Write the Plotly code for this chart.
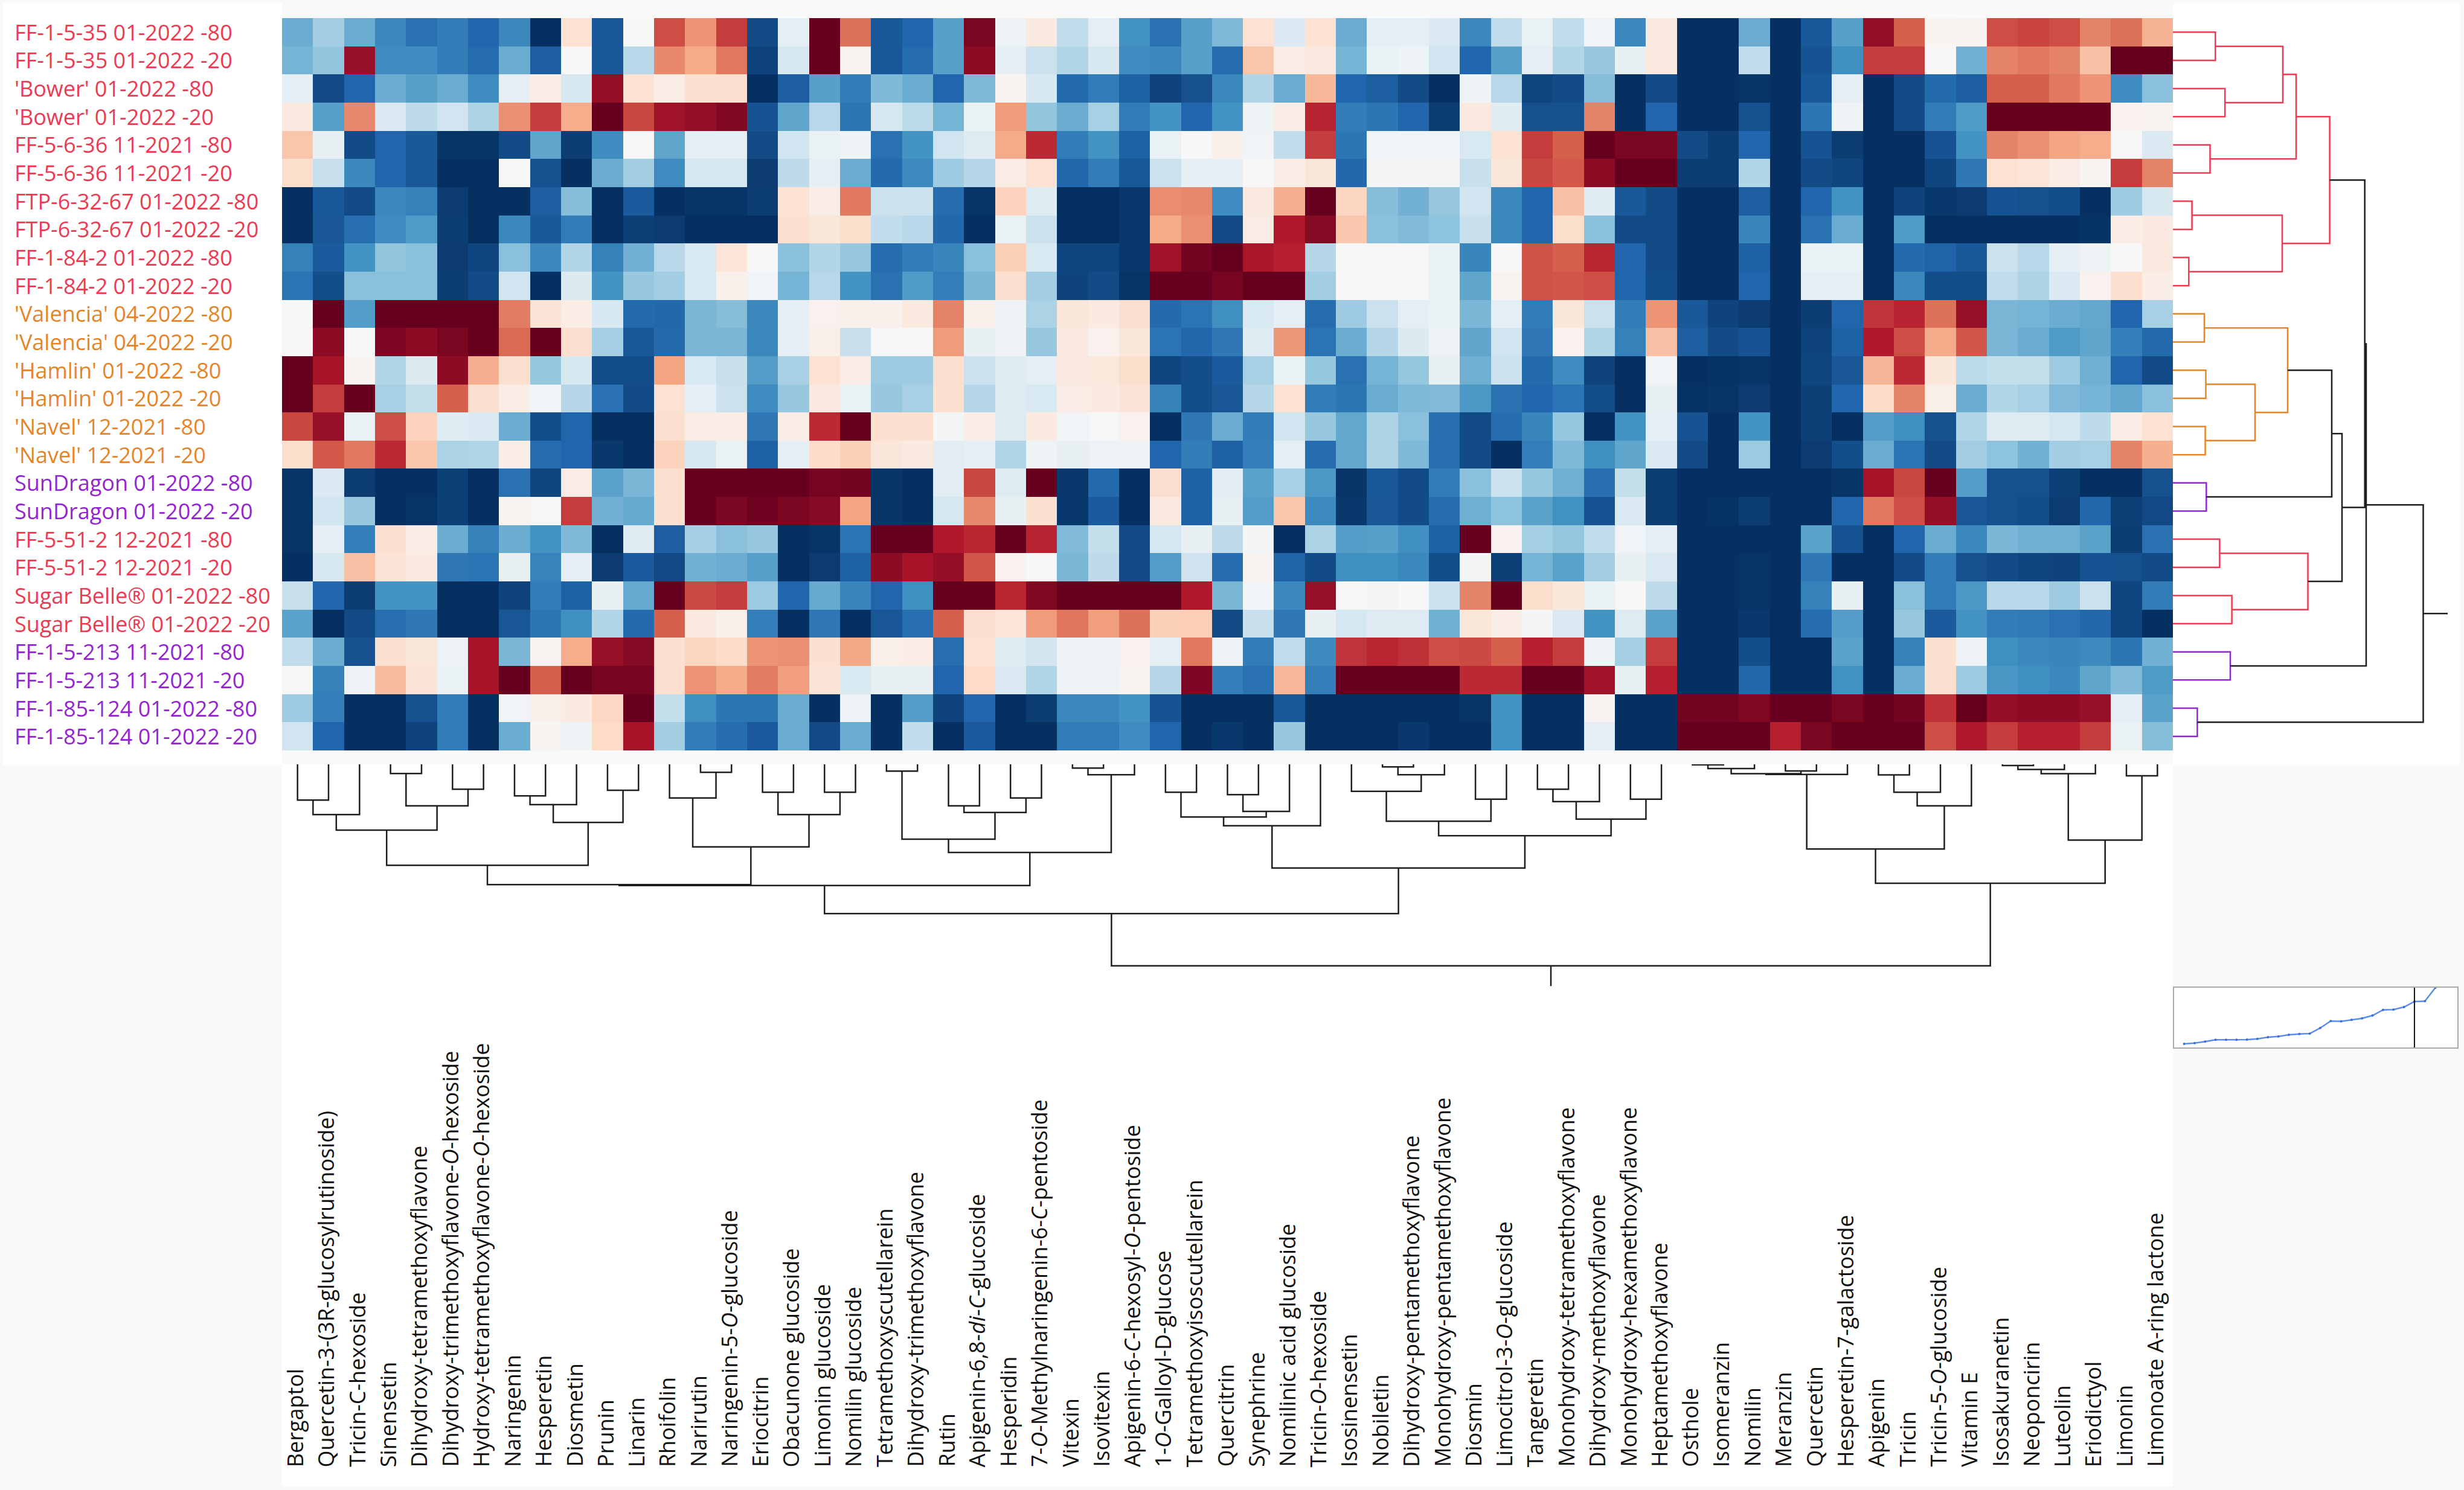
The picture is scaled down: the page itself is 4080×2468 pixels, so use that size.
import plotly.graph_objects as go

# page size in pixels, everything below is placed relative to this
W = 4080
H = 2468

row_labels = [
    "FF-1-5-35 01-2022 -80", "FF-1-5-35 01-2022 -20",
    "'Bower' 01-2022 -80", "'Bower' 01-2022 -20",
    "FF-5-6-36 11-2021 -80", "FF-5-6-36 11-2021 -20",
    "FTP-6-32-67 01-2022 -80", "FTP-6-32-67 01-2022 -20",
    "FF-1-84-2 01-2022 -80", "FF-1-84-2 01-2022 -20",
    "'Valencia' 04-2022 -80", "'Valencia' 04-2022 -20",
    "'Hamlin' 01-2022 -80", "'Hamlin' 01-2022 -20",
    "'Navel' 12-2021 -80", "'Navel' 12-2021 -20",
    "SunDragon 01-2022 -80", "SunDragon 01-2022 -20",
    "FF-5-51-2 12-2021 -80", "FF-5-51-2 12-2021 -20",
    "Sugar Belle® 01-2022 -80", "Sugar Belle® 01-2022 -20",
    "FF-1-5-213 11-2021 -80", "FF-1-5-213 11-2021 -20",
    "FF-1-85-124 01-2022 -80", "FF-1-85-124 01-2022 -20",
]
row_groups = ["red"] * 10 + ["orange"] * 6 + ["purple"] * 2 + ["red"] * 4 + ["purple"] * 4

col_labels = [
    "Bergaptol", "Quercetin-3-(3R-glucosylrutinoside)", "Tricin-C-hexoside", "Sinensetin",
    "Dihydroxy-tetramethoxyflavone", "Dihydroxy-trimethoxyflavone-<i>O</i>-hexoside",
    "Hydroxy-tetramethoxyflavone-<i>O</i>-hexoside", "Naringenin", "Hesperetin", "Diosmetin",
    "Prunin", "Linarin", "Rhoifolin", "Narirutin", "Naringenin-5-<i>O</i>-glucoside", "Eriocitrin",
    "Obacunone glucoside", "Limonin glucoside", "Nomilin glucoside", "Tetramethoxyscutellarein",
    "Dihydroxy-trimethoxyflavone", "Rutin", "Apigenin-6,8-<i>di</i>-<i>C</i>-glucoside", "Hesperidin",
    "7-<i>O</i>-Methylnaringenin-6-<i>C</i>-pentoside", "Vitexin", "Isovitexin",
    "Apigenin-6-<i>C</i>-hexosyl-<i>O</i>-pentoside", "1-<i>O</i>-Galloyl-D-glucose",
    "Tetramethoxyisoscutellarein", "Quercitrin", "Synephrine", "Nomilinic acid glucoside",
    "Tricin-<i>O</i>-hexoside", "Isosinensetin", "Nobiletin", "Dihydroxy-pentamethoxyflavone",
    "Monohydroxy-pentamethoxyflavone", "Diosmin", "Limocitrol-3-<i>O</i>-glucoside", "Tangeretin",
    "Monohydroxy-tetramethoxyflavone", "Dihydroxy-methoxyflavone", "Monohydroxy-hexamethoxyflavone",
    "Heptamethoxyflavone", "Osthole", "Isomeranzin", "Nomilin", "Meranzin", "Quercetin",
    "Hesperetin-7-galactoside", "Apigenin", "Tricin", "Tricin-5-<i>O</i>-glucoside", "Vitamin E",
    "Isosakuranetin", "Neoponcirin", "Luteolin", "Eriodictyol", "Limonin", "Limonoate A-ring lactone",
]

# one row per sample, one value per compound, scale runs -10 to 10
z_values = [
    [-5, -3.5, -5, -6.5, -7.5, -7, -8, -6.5, -10, 1.5, -8.5, 0, 6.5, 4.5, 7, -9, -1, 10, 5.5, -8.5,
     -8, -5.5, 9.5, -0.5, 1, -2.5, -1, -6, -7.5, -5.5, -4.5, 1.5, -1.5, 1.5, -5, -1, -1, -1.5, -6.5, -2.5,
     -0.7, -2.5, -0.3, -6.5, 1, -10, -10, -5, -10, -8.5, -5.5, 8.8, 6, 0.2, 0.3, 6.5, 6.8, 6.5, 5, 5.5, 3.5],
    [-4.7, -4, 8.7, -6.3, -6.3, -7, -7.7, -5, -8.3, 0, -8.5, -2.8, 4.8, 3.8, 5.3, -9.3, -1.8, 10, 0.2, -8.5,
     -7.7, -5.5, 9, -1, -2.2, -3, -1.7, -6.3, -6.5, -5.5, -7.7, 2.8, 0.7, 1, -4.7, -0.7, -0.5, -2, -8, -5.5,
     -1, -3, -3.8, -0.8, 1, -10, -10, -2.5, -10, -8.7, -6.2, 7, 7, 0, -4.8, 5, 5.3, 5, 3, 10, 10],
    [-1, -9, -8, -5, -5.5, -5, -6.3, -1, 0.8, -1.7, 8.8, 1.5, 0.8, 1.7, 1.7, -10, -8.3, -5.5, -7, -4.5,
     -5, -8, -4.5, 0.3, -1.7, -7.8, -7, -8.2, -9.3, -8.8, -6.5, -3, -5, 3.3, -8, -8.3, -9, -10, -0.5, -2.8,
     -9.2, -9, -4.3, -10, -9, -10, -10, -9.8, -10, -8.5, -1, -10, -9, -7.8, -8.3, 6, 6, 5.3, 4.5, -6.3, -4.2],
    [1, -5.5, 4.8, -1.5, -2.6, -2, -3.2, 4.6, 7, 3.7, 10, 6.7, 8.5, 8.8, 9.3, -8.7, -5.3, -2.8, -7.3, -1.7,
     -2.7, -4.7, -0.7, 4.3, -4, -5, -3.3, -7, -6, -8, -6, -0.5, 0.7, 7.7, -7, -7.3, -8, -9.5, 1, -1.2,
     -8.8, -8.8, 5, -10, -8, -10, -10, -8.8, -10, -7.3, -0.5, -10, -9, -7, -5.7, 10, 10, 10, 10, 0.4, 0.3],
    [2.8, -0.8, -9, -8, -8.5, -9.8, -9.8, -9, -5.3, -9.5, -6.3, 0, -5.3, -1, -1, -9, -2, -0.7, -0.5, -7.5,
     -6, -2, -1.3, 3.8, 7.5, -7, -6, -8.2, -0.7, 0, 0.5, -0.3, -2.5, 7, -7.3, -0.3, -0.3, -0.3, -1.6, 1.5,
     7, 6, 10, 9.5, 9.5, -9, -9.5, -8, -10, -8.7, -9.5, -10, -10, -8.7, -6, 5, 4.6, 4, 3.7, 0, -1.5],
    [1.8, -2.3, -6.5, -8, -8.5, -10, -10, 0, -8.8, -10, -5, -3.5, -6.3, -1.8, -1.8, -9.6, -2.6, -1, -5, -7.8,
     -6.4, -3.6, -2.9, 0.8, 1.5, -7.9, -7, -8.5, -2.2, -0.9, -0.9, 0, 0.7, 1.2, -7.9, -0.2, -0.2, -0.2, -2.3, 1.2,
     6.7, 6.2, 9, 10, 10, -9.5, -9.5, -3, -10, -9, -9.2, -10, -10, -9.2, -7.2, 1.5, 1.3, 0.8, 0.2, 7, 5],
    [-10, -8.5, -9, -6.5, -6.8, -9.6, -10, -10, -8.3, -4.3, -10, -8.4, -10, -9.8, -9.8, -9.5, 1.5, 0.7, 5.3, -2.2,
     -2.2, -7.7, -9.8, 2.3, -1.2, -10, -10, -9.7, 4.7, 4.8, -6.3, 1, 3.6, 10, 2.2, -4.3, -4.8, -3.8, -2, -6.5,
     -8, 3, -1.2, -8.5, -9, -10, -10, -8.3, -10, -8, -6, -10, -9.3, -9.7, -9.6, -8.7, -8.8, -8.9, -10, -3.6, -1.7],
    [-10, -8.6, -7.6, -6.3, -5.7, -9.5, -10, -6.5, -8.5, -7, -10, -9.4, -9.6, -10, -10, -10, 1.7, 1.2, 1.8, -2.5,
     -2.8, -7.9, -10, -0.7, -2.2, -10, -10, -9.7, 3.8, 4.6, -9, 0.8, 8, 9.2, 2.7, -4.2, -4.4, -4.1, -2.3, -6.5,
     -8, 1.8, -4.2, -9, -9, -10, -10, -6.6, -10, -7.5, -5, -10, -5.7, -10, -10, -10, -10, -10, -9.9, 0.7, 0.9],
    [-6.8, -8.4, -6, -4, -4.2, -9.6, -9.2, -4.2, -6.5, -3, -6.8, -4.8, -2.8, -1.6, 1.3, 0, -4.2, -3, -3.8, -7.7,
     -7, -6.6, -4.2, 2.4, -1.6, -9.2, -9.2, -9.7, 8.5, 9.7, 10, 8.2, 7.8, -2.9, 0, 0, 0, -0.7, -6.6, 0,
     6.4, 6, 7.6, -8, -9, -10, -10, -8.2, -10, -0.7, -0.7, -10, -7.8, -8.1, -8.5, -2.2, -2.8, -0.9, -0.5, 0, 1],
    [-7.4, -8.9, -4.2, -4.2, -4.2, -9.5, -9, -2, -10, -1.4, -6, -3.8, -3.5, -1.6, 0.5, -0.3, -4.7, -2.8, -6, -7.5,
     -5.7, -6.9, -4.6, 1.7, -3.5, -9.3, -9, -9.8, 10, 10, 9.6, 10, 10, -3.5, 0, 0, 0, -0.7, -5.3, 0.3,
     6.4, 6.3, 6.5, -8, -8.9, -10, -10, -8, -10, -1, -1, -10, -6.5, -8.9, -8.9, -2.5, -3.2, -1.5, 0.4, 1.7, 0.7],
    [0, 10, -5.6, 10, 10, 10, 10, 5.2, 1.4, 0.7, -1.7, -7.8, -7.9, -4.6, -4.3, -6.5, -1, 0.4, 0.5, 0.5,
     1, 5, 0.5, -0.5, -3.2, 1.2, 0.9, 1.7, -7.8, -7.4, -6.2, -1.6, -1, -7.7, -3.6, -2.2, -1, -0.7, -4.6, -1,
     -7, 1.2, -2.2, -7, 4.5, -8.5, -9.3, -9.6, -10, -9.5, -8, 7.2, 7.7, 5.5, 8.7, -4.6, -4.7, -5, -5.2, -8, -3.3],
    [0, 9, -0.1, 9.4, 9, 9.5, 10, 5.7, 10, 1.7, -3.4, -8.5, -7.8, -4.6, -4.6, -6.5, -1, 0.6, -2.3, 0,
     0, 4.3, -0.8, -0.4, -3.8, 0.9, 0.4, 1.2, -7.4, -7.9, -7.2, -1.2, 4.4, -7.4, -5, -2.9, -1.4, -0.6, -5.3, -2,
     -7.2, 0.4, -3, -6.8, 3, -8.3, -9, -8.7, -10, -9.3, -8.2, 8, 6.5, 3.8, 6.3, -4.6, -5, -5.7, -5.3, -6.9, -7.8],
    [10, 8.3, 0.2, -3, -1.4, 9, 3.6, 1.7, -3.9, -1.7, -8.9, -8.9, 4, -1.6, -2.3, -5.6, -3.3, 1.5, 0.8, -3.7,
     -3.6, 1.7, -2.2, -1.2, -1, 1, 1.1, 1.8, -9.2, -8.9, -8.4, -3.3, -0.7, -3.9, -7.5, -4.7, -3.9, -0.8, -4.9, -2.2,
     -7.8, -6.3, -9.3, -10, -0.3, -10, -9.9, -9.8, -10, -9.2, -8.6, 3.4, 7.5, 1.2, -2.7, -2.4, -2.4, -3.6, -4.9, -8, -9],
    [10, 7, 10, -3.3, -2.4, 6, 1.7, 0.7, -0.3, -2.9, -7.5, -9, 1.5, -1, -2.2, -6.3, -3.8, 1, -0.7, -3.8,
     -3.3, 1.6, -2.9, -1.3, -1.6, 0.8, 0.9, 1.4, -6.8, -8.9, -8.6, -2.9, 1.5, -7, -7.3, -5, -4.5, -4.4, -5.8, -7.5,
     -8, -7.4, -8.9, -10, -0.8, -9.9, -9.8, -9.6, -10, -9.4, -8, 1.9, 5, 0.6, -5, -3, -3.3, -4.4, -4.7, -5.2, -4.2],
    [6.7, 8.7, -0.7, 6.5, 2.3, -1.2, -1.5, -5, -8.9, -8, -10, -10, 1.7, 0.8, 0.7, -7.2, 0.8, 7.5, 10, 1.6,
     1.6, -0.2, 0.7, -1.3, 0.9, -0.3, -0.1, 0.4, -10, -7.2, -5, -7, -2, -3.8, -5.2, -3.2, -4.2, -7.6, -9, -7.7,
     -6.6, -3.9, -10, -6, -1, -8.7, -10, -6, -10, -9.4, -10, -5.6, -6.2, -8.8, -3, -1.3, -1.3, -1.8, -2.6, 0.8, 1.5],
    [1.8, 6.2, 5.3, 7.5, 2.8, -3.2, -3, 0.7, -7.7, -8, -9.7, -10, 2.3, -1.8, -0.7, -8.2, -1, 1.9, 2.4, 1.2,
     0.9, -1.1, -1, -3, -0.5, -0.8, -0.6, -0.4, -8, -7, -8.2, -6.9, -1, -7.7, -5.2, -3.1, -4.5, -7.6, -9, -10,
     -6.9, -4.5, -6.2, -5.3, -1.5, -9, -10, -3.7, -10, -9.6, -8.9, -5, -7.4, -9, -3.5, -4.1, -4.8, -3.5, -3.3, 5, 3.6],
    [-9.8, -1.5, -9.5, -10, -10, -9.4, -10, -7.5, -9.2, 0.8, -5.4, -4.6, 1.6, 10, 10, 10, 10, 9.6, 9.7, -9.8,
     -10, -1.1, 6.7, -1.3, 10, -9.7, -7.8, -10, 1.7, -8.2, -1.1, -5.4, -3.3, -5.8, -9.8, -8.5, -9, -7, -4.2, -2.2,
     -3.9, -4.9, -7.6, -2.4, -9.5, -10, -10, -10, -10, -10, -9.8, 8.3, 6.7, 10, -5.6, -8.8, -8.8, -9.4, -10, -10, -8.8],
    [-9.8, -2, -3.8, -10, -9.8, -9.4, -10, 0.3, -0.1, 7, -4.8, -5.1, 1.6, 10, 9.5, 9.8, 9.5, 9.2, 4, -9.8,
     -10, -1.8, 4.8, -0.8, 1.6, -9.7, -8.4, -10, 1, -8.2, -0.8, -5.6, 2.8, -6.4, -9.7, -8.6, -9, -7.7, -4.9, -4.1,
     -5.4, -6.1, -8.7, -1.5, -9.5, -10, -9.9, -9.5, -10, -10, -8, 5.3, 6.5, 8.8, -8.6, -8.8, -8.9, -9.6, -7.9, -9.4, -9.1],
    [-9.8, -1, -6.9, 1.6, 0.8, -5, -6.8, -5, -6, -4.5, -10, -1.3, -8.3, -3.4, -4.2, -3.8, -10, -9.8, -7.4, 10,
     10, 8, 7.6, 10, 7.7, -4.4, -2.4, -9, -1.8, -0.8, -2.6, -0.2, -10, -3.2, -5.6, -5.5, -6.2, -8.2, 10, 0.4,
     -3.4, -3.9, -2.5, -0.3, -1, -10, -10, -10, -10, -5.4, -8.7, -10, -8, -5, -6.5, -4.6, -4.8, -4.9, -5.4, -9.5, -7.5],
    [-10, -1.7, 3, 1.4, 0.9, -7.2, -7.4, -0.8, -6.7, -1, -9.6, -8.4, -9.1, -4.8, -5, -5.5, -10, -9.6, -8.2, 9,
     8.3, 8.8, 6.3, 0.4, 0, -4.6, -2.6, -9, -5.6, -2.1, -7.7, 0.3, -8.1, -9, -6.2, -6.2, -6.5, -8.9, -0.2, -9.4,
     -4.7, -5.4, -3.5, -0.8, -1.5, -10, -10, -9.8, -10, -7.2, -10, -10, -9, -7, -8.8, -9, -9.2, -9.3, -8.7, -8.8, -9],
    [-2.3, -8, -9.5, -6, -6, -10, -10, -9.3, -7, -8.2, -0.8, -5.1, 10, 6.6, 7, -3.7, -8, -5.1, -6.6, -8,
     -6.2, 10, 10, 7.6, 9.3, 10, 10, 10, 10, 8, -4.6, -0.3, -6.5, 8.7, 0.1, -0.2, 0, -2.2, 5, 10,
     1.8, 1.2, -0.7, 0, -2.6, -10, -10, -9.8, -10, -6.8, -0.8, -10, -4.2, -7, -5.8, -2.8, -2.8, -3.6, -2.2, -9.2, -7],
    [-5.4, -10, -9, -7.6, -7.2, -10, -10, -8.6, -7.3, -6.2, -3, -7.8, 6, 1, 0.5, -6.9, -10, -7.2, -10, -8.6,
     -7.6, 6, 1.7, 1.3, 4.3, 5.4, 4.2, 5.5, 2.4, 2.5, -9, -2.3, -7.2, -0.8, -1.8, -1.3, -1.3, -4.9, 1.2, 0.7,
     -0.2, -1.5, -6, -1.3, -5.4, -10, -10, -9.7, -10, -7.7, -5.6, -10, -3.8, -8.4, -6, -7, -7.1, -7.5, -7.9, -9.2, -10],
    [-2.5, -5, -8.8, 1.7, 1.2, -0.6, 8.3, -4.6, 0.3, 3.7, 8.7, 9.2, 1.6, 2.2, 1.9, 4.5, 4.6, 1.6, 3.9, 0.6,
     0.7, -7.6, 1.5, -1.2, -1.9, -0.4, -0.4, 0.4, -1, 5.3, -0.6, -7, -2.5, -6.4, 7.2, 7.6, 7.3, 6.5, 6.6, 6,
     7.8, 7, -0.5, -3.4, 7, -10, -10, -8.9, -10, -10, -5.4, -10, -6.8, 1.6, -0.5, -6.2, -6.5, -6.6, -6.4, -7.3, -4.8],
    [0, -6.8, -0.6, 3.2, 1.4, -0.7, 8.3, 10, 6, 10, 9.6, 9.6, 1.7, 4.5, 3.8, 5.2, 4.2, 1.4, -1.6, -0.8,
     -0.8, -8, 2, -1.5, -3, -0.5, -0.4, 0.3, -2.9, 9.4, -6.9, -7.5, 3.3, -6.9, 10, 10, 10, 10, 7.5, 7.5,
     10, 10, 8.5, -0.8, 7.8, -10, -10, -7.9, -10, -10, -6.1, -10, -5, 1.6, -3.6, -5.9, -6.2, -6.5, -5.3, -4.4, -5.7],
    [-3.6, -6.9, -10, -10, -8.8, -7, -10, -0.3, 0.5, 0.9, 2.1, 10, -2.4, -6.2, -7.3, -7.3, -5, -10, -0.6, -10,
     -5.6, -9.3, -8, -10, -9.5, -6.5, -6.5, -6, -8.7, -10, -10, -10, -8.5, -10, -10, -10, -10, -10, -9.8, -6,
     -10, -10, 0.3, -10, -10, 9.7, 9.7, 9.3, 10, 10, 9.5, 10, 9.7, 7.3, 10, 8.8, 9, 9, 8.7, -1, -5.4],
    [-2, -8, -10, -10, -9.3, -7, -10, -5, 0.2, -0.5, 2, 8.3, -3.5, -7, -7.7, -8.4, -5, -9.1, -5, -10,
     -2.5, -10, -8.4, -10, -10, -7, -7, -6.3, -8, -10, -9.7, -10, -3.8, -10, -10, -10, -9.7, -10, -10, -6,
     -10, -10, -1, -10, -10, 10, 10, 10, 7.8, 9.5, 10, 10, 10, 6.5, 8, 7, 7.8, 7.8, 7, -0.7, -4.3],
]

# dendrogram merges: (first leaf, last leaf of left cluster, last leaf of right cluster, height)
col_merges = [
    (1, 1, 2, 59.3), (1, 2, 3, 83.3), (4, 4, 5, 15.3), (6, 6, 7, 41.3), (4, 5, 7, 68.7), (1, 3, 7, 109),
    (8, 8, 9, 52.3), (8, 9, 10, 66.7), (11, 11, 12, 43), (8, 10, 12, 96.3), (1, 7, 12, 167.3),
    (14, 14, 15, 13.3), (13, 13, 15, 55.7), (16, 16, 17, 46.3), (18, 18, 19, 46.3), (16, 17, 19, 83.3),
    (13, 15, 19, 136.7), (1, 12, 19, 199.3),
    (20, 20, 21, 11.3), (22, 22, 23, 68.7), (24, 24, 25, 55.7), (22, 23, 25, 79.7), (20, 21, 25, 124),
    (26, 26, 27, 6.3), (26, 27, 28, 17.3), (20, 25, 28, 146), (1, 19, 28, 200.7),
    (29, 29, 30, 46.3), (31, 31, 32, 50.3), (31, 32, 33, 78), (29, 30, 33, 87.3), (29, 33, 34, 101.7),
    (36, 36, 37, 4.3), (36, 37, 38, 17.3), (35, 35, 38, 44.7), (39, 39, 40, 57.7), (35, 38, 40, 94.3),
    (41, 41, 42, 41.3), (41, 42, 43, 61.7), (44, 44, 45, 57.7), (41, 43, 45, 90.7), (35, 40, 45, 118.3),
    (29, 34, 45, 171.7), (1, 28, 45, 247.3),
    (46, 46, 47, 0.7), (46, 47, 48, 7), (49, 49, 50, 11), (46, 48, 50, 15.4), (46, 50, 51, 16.8),
    (52, 52, 53, 17.5), (52, 53, 54, 46.3), (52, 54, 55, 68.7), (46, 51, 55, 140.3),
    (56, 56, 57, 2), (56, 57, 58, 8.4), (56, 58, 59, 15.4), (60, 60, 61, 19), (56, 59, 61, 125.6),
    (46, 55, 61, 197), (1, 45, 61, 333.7),
]
col_root_height = 367.3

row_merges_red = [
    (1, 1, 2, 70.3), (3, 3, 4, 86.2), (1, 2, 4, 182), (5, 5, 6, 61.5), (1, 4, 6, 204),
    (7, 7, 8, 31.6), (9, 9, 10, 26.3), (7, 8, 10, 181), (1, 6, 10, 259.6),
    (19, 19, 20, 77.4), (21, 21, 22, 97.6), (19, 20, 22, 223.5),
]
row_merges_orange = [
    (11, 11, 12, 52), (13, 13, 14, 54.5), (15, 15, 16, 53.6), (13, 14, 16, 136), (11, 12, 16, 190),
]
row_merges_purple = [(17, 17, 18, 55.3), (23, 23, 24, 95), (25, 25, 26, 40.4)]
row_merges_black = [
    (11, 16, 18, 263), (11, 18, 22, 280), (1, 10, 22, 317.7), (1, 22, 24, 320), (1, 24, 26, 414.5),
]
row_root_height = 455

# small cluster-distance plot, bottom right
distance_steps = list(range(1, 26))
distance_values = [6, 7.3, 9.7, 12.7, 12.7, 12.7, 13, 14.3, 17, 18.3, 21, 22.3, 23, 32.3, 43.7, 43.3,
                   45.7, 48.3, 53, 62.3, 62.7, 67, 76, 76.7, 99]
distance_cut = 23

COLORS = {"red": "#EC3B52", "orange": "#E6842A", "purple": "#9325D2", "black": "#1E1E1E"}
FONT = "Open Sans"
ROW_FONT_SIZE = 36
COL_FONT_SIZE = 36


def px_x(x):
    return x / W


def px_y(y):
    return 1 - y / H


def merge_lines(merges, nodes):
    # position of a cluster is the middle of its two children
    a = []
    b = []
    for lo, mid, hi, h in merges:
        left = nodes.get((lo, mid), (float(lo), 0))
        right = nodes.get((mid + 1, hi), (float(hi), 0))
        a.extend([left[0], left[0], right[0], right[0], None])
        b.extend([left[1], h, h, right[1], None])
        nodes[(lo, hi)] = ((left[0] + right[0]) / 2, h)
    return a, b


fig = go.Figure()

fig.add_trace(go.Heatmap(
    z=z_values,
    x=list(range(1, 62)),
    y=list(range(1, 27)),
    colorscale="RdBu_r",
    zmin=-10, zmax=10,
    showscale=False,
    xaxis="x", yaxis="y"))

# column dendrogram
col_nodes = {}
xs, ys = merge_lines(col_merges, col_nodes)
root_x, root_h = col_nodes[(1, 61)]
xs.extend([root_x, root_x])
ys.extend([root_h, col_root_height])
fig.add_trace(go.Scatter(x=xs, y=ys, mode="lines", hoverinfo="skip",
                         line=dict(color=COLORS["black"], width=2.5),
                         xaxis="x2", yaxis="y2"))

# row dendrogram, coloured clusters first because the black merges sit on top of them
row_nodes = {}
for name, merges in [("red", row_merges_red), ("orange", row_merges_orange),
                     ("purple", row_merges_purple), ("black", row_merges_black)]:
    ys, xs = merge_lines(merges, row_nodes)
    if name == "black":
        root_y, root_h = row_nodes[(1, 26)]
        xs.extend([root_h, row_root_height])
        ys.extend([root_y, root_y])
    fig.add_trace(go.Scatter(x=xs, y=ys, mode="lines", hoverinfo="skip",
                             line=dict(color=COLORS[name], width=2.5),
                             xaxis="x3", yaxis="y3"))

fig.add_trace(go.Scatter(x=distance_steps, y=distance_values, mode="lines+markers",
                         line=dict(color="#5C8CEB", width=2.5),
                         marker=dict(color="#3F6FD8", size=4),
                         xaxis="x4", yaxis="y4"))
fig.add_trace(go.Scatter(x=[distance_cut, distance_cut], y=[0, 99], mode="lines",
                         line=dict(color="#111111", width=2),
                         xaxis="x4", yaxis="y4"))

annotations = []
for i, label in enumerate(row_labels):
    annotations.append(dict(text=label, x=px_x(22), y=i + 1, xref="paper", yref="y",
                            xanchor="left", yanchor="middle", showarrow=False,
                            font=dict(family=FONT, size=ROW_FONT_SIZE, color=COLORS[row_groups[i]])))
for i, label in enumerate(col_labels):
    annotations.append(dict(text=label, x=i + 1, y=px_y(2432), xref="x", yref="paper",
                            xanchor="center", yanchor="bottom", textangle=-90, showarrow=False,
                            xshift=-4,
                            font=dict(family=FONT, size=COL_FONT_SIZE, color="#111111")))

white = dict(type="rect", xref="paper", yref="paper", fillcolor="white", line_width=0, layer="below")
shapes = [
    dict(white, x0=px_x(5), x1=px_x(467), y0=px_y(1267), y1=px_y(5)),
    dict(white, x0=px_x(467), x1=px_x(3598), y0=px_y(2462), y1=px_y(1267)),
    dict(white, x0=px_x(3598), x1=px_x(4073), y0=px_y(1267), y1=px_y(5)),
]

no_axis = dict(showgrid=False, zeroline=False, showticklabels=False, ticks="", showline=False)

fig.update_layout(
    width=W, height=H,
    margin=dict(l=0, r=0, t=0, b=0),
    paper_bgcolor="#F9F9F9",
    plot_bgcolor="white",
    showlegend=False,
    annotations=annotations,
    shapes=shapes,
    xaxis=dict(no_axis, domain=[px_x(467), px_x(3598)], range=[0.5, 61.5]),
    yaxis=dict(no_axis, domain=[px_y(1243), px_y(30)], range=[26.5, 0.5]),
    xaxis2=dict(no_axis, domain=[px_x(467), px_x(3598)], range=[0.5, 61.5], anchor="y2"),
    yaxis2=dict(no_axis, domain=[px_y(1666), px_y(1266)], range=[400, 0], anchor="x2"),
    xaxis3=dict(no_axis, domain=[px_x(3598), px_x(4073)], range=[0, 475], anchor="y3"),
    yaxis3=dict(no_axis, domain=[px_y(1243), px_y(30)], range=[26.5, 0.5], anchor="x3"),
    xaxis4=dict(no_axis, domain=[px_x(3600), px_x(4069)], range=[0.04, 27.1], anchor="y4"),
    yaxis4=dict(no_axis, domain=[px_y(1735), px_y(1636)], range=[0, 99], anchor="x4"),
)
fig.update_xaxes(showline=True, mirror=True, linecolor="#AAAAAA", linewidth=2, selector=dict(anchor="y4"))
fig.update_yaxes(showline=True, mirror=True, linecolor="#AAAAAA", linewidth=2, selector=dict(anchor="x4"))

# browser default body margin would push the whole figure by 8px
fig.write_html("out.html", config={"displayModeBar": False},
               post_script="document.body.style.margin='0';")
